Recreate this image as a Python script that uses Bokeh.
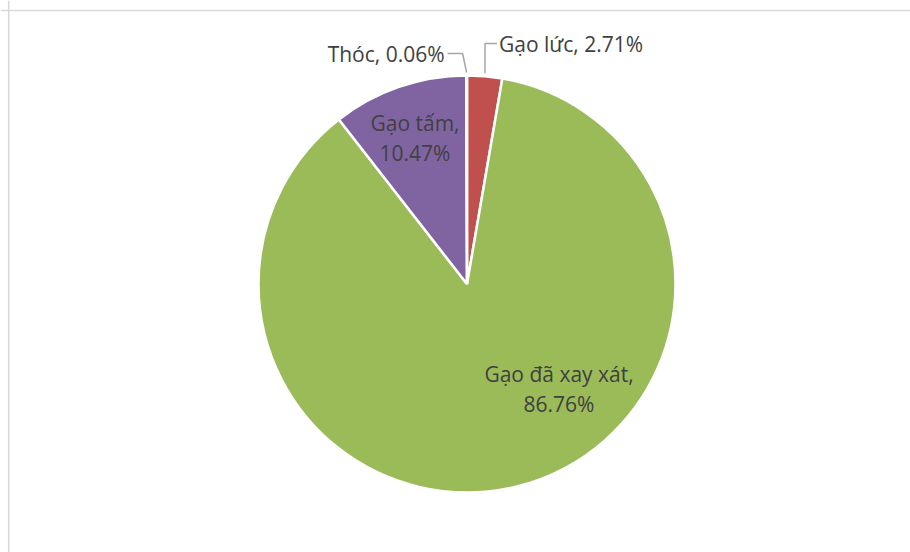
import math
from bokeh.plotting import figure
from bokeh.models import Range1d, Span, ColumnDataSource
from bokeh.core.properties import value
from bokeh.embed import file_html
from bokeh.resources import INLINE

# ---- data ----
categories = ["Gạo lức", "Gạo đã xay xát", "Gạo tấm", "Thóc"]
percents = [2.71, 86.76, 10.47, 0.06]
colors = ["#C0504D", "#9BBB59", "#8064A2", "#4F81BD"]

W, H = 910, 552
cx, cy, R = 466.5, H - 283.5, 208.5

p = figure(width=W, height=H, x_range=Range1d(0, W), y_range=Range1d(0, H),
           output_backend="svg", toolbar_location=None, min_border=0)
p.axis.visible = False
p.grid.visible = False
p.outline_line_color = None
p.background_fill_color = "white"
p.border_fill_color = "white"

# frame edges (top, left) as in reference
p.add_layout(Span(location=H - 10, dimension="width", line_color="#D9D9D9", line_width=1.6))
p.add_layout(Span(location=8.2, dimension="height", line_color="#D9D9D9", line_width=1.6))

total = sum(percents)
starts, ends, mids = [], [], []
a = math.pi / 2
for v in percents:
    sweep = 2 * math.pi * v / total
    starts.append(a - sweep)
    ends.append(a)
    mids.append(a - sweep / 2)
    a -= sweep

src = ColumnDataSource(dict(start=starts, end=ends, color=colors))
p.wedge(x=cx, y=cy, radius=R, start_angle="start", end_angle="end",
        fill_color="color", line_color="white", line_width=2.5, source=src)

font = value("Open Sans")
tcol = "#404040"
fs = "21px"

def lbl(i):
    return f"{categories[i]}, {percents[i]:.2f}%"

# Gạo lức (outside, leader)
m = mids[0]
ex, ey = cx + (R + 3) * math.cos(m), cy + (R + 3) * math.sin(m)
ly = H - 43
p.line([ex, ex, ex + 12], [ey, ly, ly], line_color="#A6A6A6", line_width=1.5)
p.text(x=[ex + 14], y=[ly], text=[lbl(0)], text_font=font, text_font_size=fs,
       text_color=tcol, text_align="left", text_baseline="alphabetic")

# Thóc (outside, leader)
m = mids[3]
ex, ey = cx + (R + 3) * math.cos(m), cy + (R + 3) * math.sin(m)
ly = H - 53
p.line([ex, ex - 4, ex - 19], [ey, ly, ly], line_color="#A6A6A6", line_width=1.5)
p.text(x=[ex - 22], y=[ly], text=[lbl(3)], text_font=font, text_font_size=fs,
       text_color=tcol, text_align="right", text_baseline="alphabetic")

# inside labels
x2, y2 = cx - 52, H - 137.5
p.text(x=[x2], y=[y2], text=[f"{categories[2]},\n{percents[2]:.2f}%"], text_font=font,
       text_font_size=fs, text_color=tcol, text_align="center", text_baseline="middle",
       text_line_height=1.06)

x1, y1 = cx + 92, H - 388.5
p.text(x=[x1], y=[y1], text=[f"{categories[1]},\n{percents[1]:.2f}%"], text_font=font,
       text_font_size=fs, text_color=tcol, text_align="center", text_baseline="middle",
       text_line_height=1.06)

open("out.html", "w").write(file_html(p, INLINE))
